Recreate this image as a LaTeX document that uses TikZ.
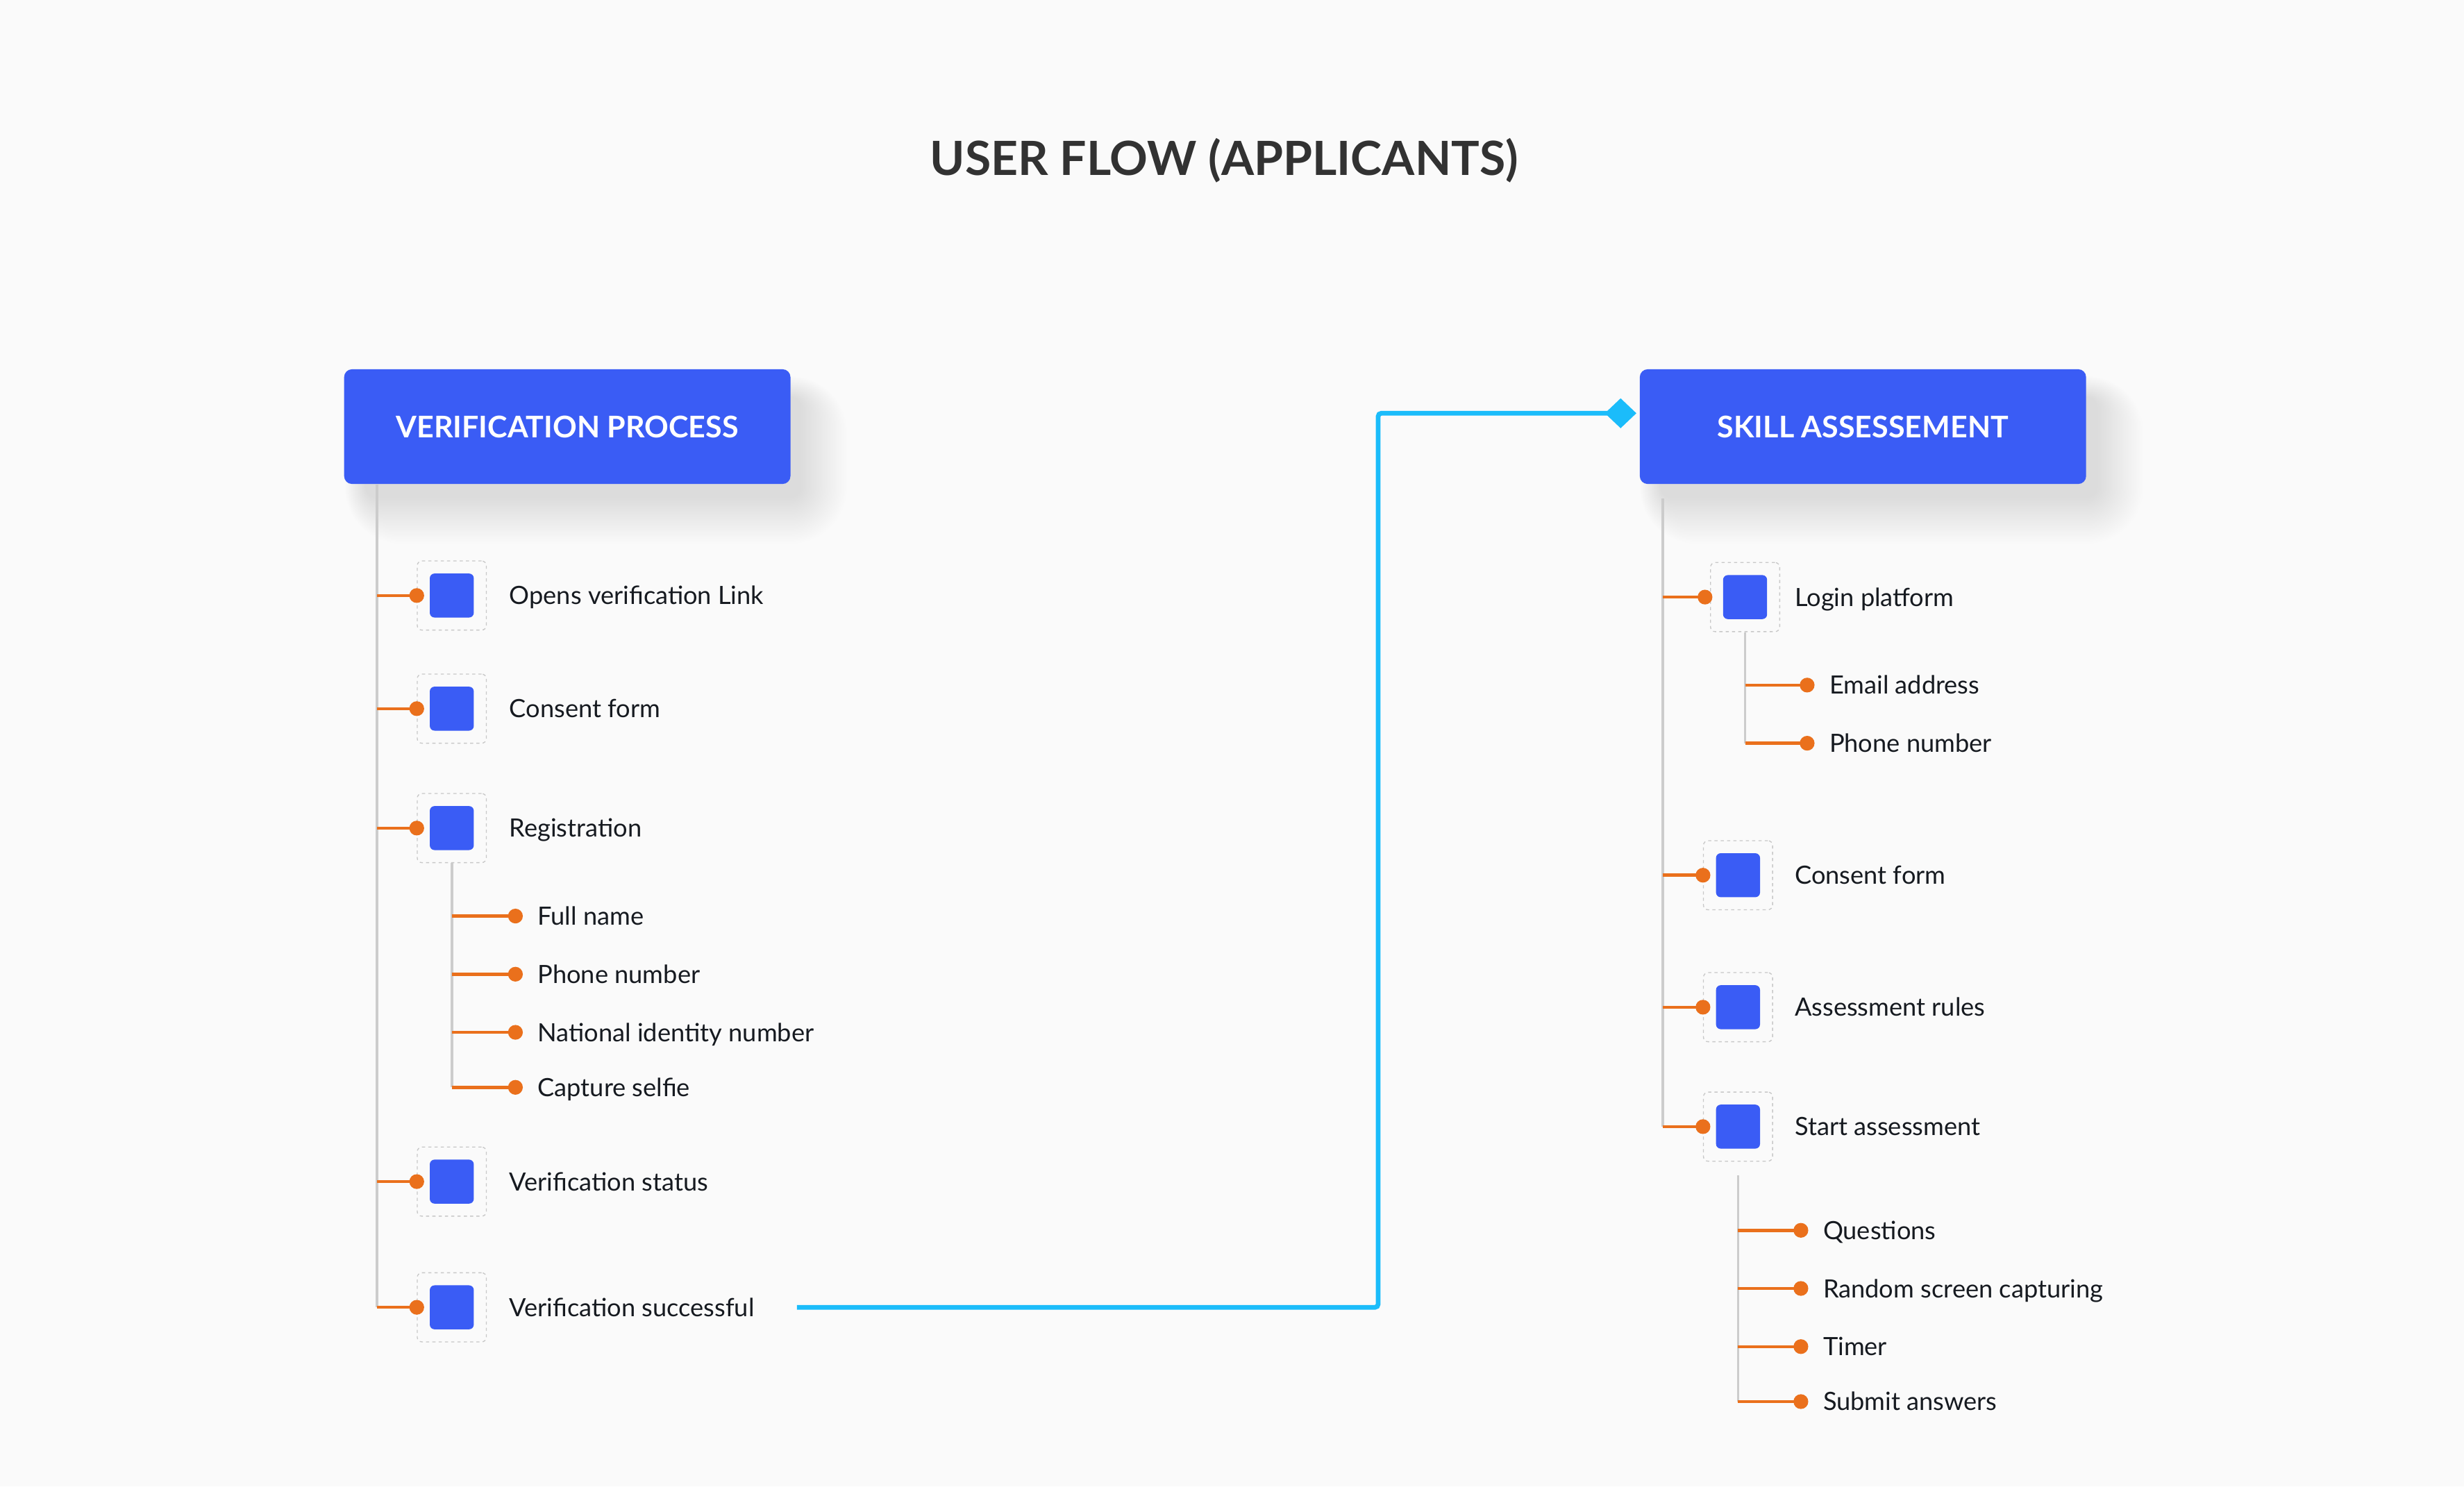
\documentclass[tikz,border=0pt]{standalone}
\usepackage{fontspec}
\setmainfont{Lato}
\usetikzlibrary{arrows.meta}
\definecolor{bgc}{RGB}{250,250,250}
\definecolor{hblue}{RGB}{58,92,245}
\definecolor{orng}{RGB}{234,112,28}
\definecolor{cyn}{RGB}{27,188,250}
\definecolor{trk}{RGB}{204,204,204}
\definecolor{dsh}{RGB}{200,200,200}
\definecolor{txt}{RGB}{22,26,32}
\definecolor{ttl}{RGB}{50,50,50}
\tikzset{
  header/.style={rectangle, rounded corners=5pt, fill=hblue, text=white,
    font=\bfseries\fontsize{19}{22}\selectfont, minimum width=284pt, minimum height=73pt, inner sep=0pt},
  ibox/.style={rectangle, rounded corners=3pt, draw=dsh, dash pattern=on 2pt off 2pt, line width=0.6pt,
    minimum size=44pt, inner sep=0pt,
    path picture={\fill[hblue, rounded corners=3pt] ([xshift=-14pt,yshift=-14pt]path picture bounding box.center) rectangle ++(28pt,28pt);}},
  lbl/.style={anchor=west, inner sep=0pt, text=txt, font=\fontsize{16}{19}\selectfont, text height=11.5pt, text depth=0pt},
  trunk/.style={draw=trk, line width=1.6pt},
  oline/.style={draw=orng, line width=2pt},
  dot/.style={fill=orng},
  cline/.style={draw=cyn, line width=3pt, rounded corners=2pt, -{Diamond[length=20pt,width=19pt]}},
}
\begin{document}
\begin{tikzpicture}[x=1pt,y=-1pt]
\fill[bgc] (0,0) rectangle (1568,946);
\useasboundingbox (0,0) rectangle (1568,946);

% title
\node[inner sep=0pt, text=ttl, font=\bfseries\fontsize{30}{34}\selectfont, text height=21.5pt, text depth=0pt] (title) at (779,101) {USER FLOW (APPLICANTS)};

% soft shadows
\foreach \i in {1,...,30}{
  \pgfmathsetmacro\rr{6+\i}
  \fill[black, opacity=0.0027, rounded corners=\rr pt] (219+14-0.45*\i,235+18-0.45*\i) rectangle (503+6+\i,308+8+\i);
  \fill[black, opacity=0.0027, rounded corners=\rr pt] (1043+14-0.45*\i,235+18-0.45*\i) rectangle (1328+6+\i,308+8+\i);
}

% ---------- left tree ----------
\node[header] (vp) at (361,271.5) {VERIFICATION PROCESS};
\coordinate (vt) at (240,832);
\draw[trunk] (vp.south -| vt) -- (vt);

\node[ibox] (v1) at (287.5,379) {};
\node[ibox] (v2) at (287.5,451) {};
\node[ibox] (v3) at (287.5,527) {};
\node[ibox] (v4) at (287.5,752) {};
\node[ibox] (v5) at (287.5,832) {};
\foreach \n in {v1,v2,v3,v4,v5}{
  \draw[oline] (vt |- \n) -- (\n.west);
  \fill[dot] (\n.west) circle (4.7pt);
}
\node[lbl] (v1l) at (324,379) {Opens verification Link};
\node[lbl] (v2l) at (324,451) {Consent form};
\node[lbl] (v3l) at (324,527) {Registration};
\node[lbl] (v4l) at (324,752) {Verification status};
\node[lbl] (v5l) at (324,832) {Verification successful};

% registration sub items
\coordinate (r1) at (328,583);
\coordinate (r2) at (328,620);
\coordinate (r3) at (328,657);
\coordinate (r4) at (328,692);
\draw[trunk] (v3.south) -- (v3.south |- r4);
\foreach \n in {r1,r2,r3,r4}{
  \draw[oline] (v3.south |- \n) -- (\n);
  \fill[dot] (\n) circle (4.7pt);
}
\node[lbl] (r1l) at (342,583) {Full name};
\node[lbl] (r2l) at (342,620) {Phone number};
\node[lbl] (r3l) at (342,657) {National identity number};
\node[lbl] (r4l) at (342,692) {Capture selfie};

% ---------- right tree ----------
\node[header] (sa) at (1185.5,271.5) {SKILL ASSESSEMENT};
\coordinate (st0) at (1058,317);
\coordinate (st) at (1058,717);
\draw[trunk] (st0) -- (st);

\node[ibox] (s1) at (1110.5,380) {};
\node[ibox] (s2) at (1106,557) {};
\node[ibox] (s3) at (1106,641) {};
\node[ibox] (s4) at (1106,717) {};
\coordinate (s1d) at (1085,380);
\draw[oline] (st |- s1) -- (s1d);
\fill[dot] (s1d) circle (4.7pt);
\foreach \n in {s2,s3,s4}{
  \draw[oline] (st |- \n) -- (\n.west);
  \fill[dot] (\n.west) circle (4.7pt);
}
\node[lbl] (s1l) at (1142,380) {Login platform};
\node[lbl] (s2l) at (1142,557) {Consent form};
\node[lbl] (s3l) at (1142,641) {Assessment rules};
\node[lbl] (s4l) at (1142,717) {Start assessment};

% login sub items
\coordinate (l1) at (1150,436);
\coordinate (l2) at (1150,473);
\draw[trunk] (s1.south) -- (s1.south |- l2);
\foreach \n in {l1,l2}{
  \draw[oline] (s1.south |- \n) -- (\n);
  \fill[dot] (\n) circle (4.7pt);
}
\node[lbl] (l1l) at (1164,436) {Email address};
\node[lbl] (l2l) at (1164,473) {Phone number};

% start assessment sub items
\coordinate (q0) at (1106,748);
\coordinate (q1) at (1146,783);
\coordinate (q2) at (1146,820);
\coordinate (q3) at (1146,857);
\coordinate (q4) at (1146,892);
\draw[trunk] (q0) -- (q0 |- q4);
\foreach \n in {q1,q2,q3,q4}{
  \draw[oline] (q0 |- \n) -- (\n);
  \fill[dot] (\n) circle (4.7pt);
}
\node[lbl] (q1l) at (1160,783) {Questions};
\node[lbl] (q2l) at (1160,820) {Random screen capturing};
\node[lbl] (q3l) at (1160,857) {Timer};
\node[lbl] (q4l) at (1160,892) {Submit answers};

% ---------- connector ----------
\coordinate (bend) at (877,263);
\draw[cline] ([xshift=27pt]v5l.east) -| (bend) -- ([xshift=-2pt,yshift=8.5pt]sa.west);
\end{tikzpicture}
\end{document}
